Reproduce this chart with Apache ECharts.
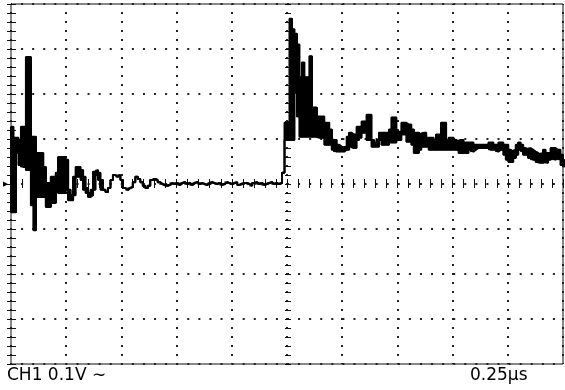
<!DOCTYPE html>
<html>
<head>
<meta charset="utf-8">
<script src="https://cdn.jsdelivr.net/npm/echarts@6/dist/echarts.min.js"></script>
<style>
html,body{margin:0;padding:0;background:#fff;}
#chart{width:565px;height:390px;}
</style>
</head>
<body>
<div id="chart"></div>
<script>
// Channel / timebase labels
const channelLabel = 'CH1 0.1V \u223C';
const timebaseLabel = '0.25\u03BCs';
// Time axis (µs): 10 divisions of 0.25 µs
const timeMin = 0, timeMax = 2.5, timeDiv = 0.25;
// Voltage axis (mV): 8 divisions of 100 mV
const voltMin = -400, voltMax = 400, voltDiv = 100;
// Peak-detect envelope of the trace (mV), one entry per display sample, left to right
const traceHigh = [
  127, 103, 103, 98, 127, 127, 282, 282, 105, 105,
  69, 69, 69, 38, 2, 2, 16, 16, 25, 60,
  60, 60, 54, -13, -25, 16, 38, 38, 31, 16,
  -9, -20, -13, 27, 31, 25, 9, -13, -18, -9,
  9, 20, 16, 20, 9, -9, -13, -9, -7, 4,
  16, 11, 4, -4, -9, -4, 9, 11, 9, 4,
  0, -2, -4, -2, 2, 0, 2, -2, 2, 4,
  0, 2, -2, 2, 4, 0, 2, 0, -2, 2,
  4, 2, 0, 2, -2, 0, 4, 2, 0, 2,
  4, -2, 0, 2, 2, 0, -4, 2, 4, 0,
  2, -2, 0, 2, 4, 0, 2, 0, 2,
  25, 136, 136, 367, 344, 334, 310, 237, 270, 237, 237,
  284, 170, 170, 150, 150, 150, 136, 136, 121, 98,
  98, 87, 83, 80, 83, 105, 114, 110, 110, 127,
  127, 139, 139, 154, 154, 98, 92, 98, 114, 114,
  114, 114, 121, 148, 148, 116, 116, 136, 136, 132,
  132, 121, 114, 114, 110, 114, 114, 103, 103, 103,
  98, 110, 110, 136, 136, 98, 103, 103, 98, 94,
  98, 98, 92, 92, 92, 92, 87, 87, 87, 87,
  87, 87, 92, 92, 87, 87, 92, 92, 87, 87,
  76, 72, 76, 87, 92, 87, 80, 76, 80, 76,
  72, 69, 65, 69, 76, 69, 69, 80, 80, 76,
  76, 65, 54
];
const traceLow = [
  -63, -63, 69, 42, 38, 38, 31, 31, -47, -103,
  -29, -29, -29, -29, -51, -51, -42, -42, -7, -20,
  -20, -20, -13, -36, -36, -25, 16, 16, 9, -13,
  -20, -29, -25, -13, 20, 9, -13, -13, -18, -9,
  9, 20, 16, 20, 9, -9, -13, -9, -7, 4,
  16, 11, 4, -4, -9, -4, 9, 11, 9, 4,
  0, -2, -4, -2, 2, 0, 2, -2, 2, 4,
  0, 2, -2, 2, 4, 0, 2, 0, -2, 2,
  4, 2, 0, 2, -2, 0, 4, 2, 0, 2,
  4, -2, 0, 2, 2, 0, -4, 2, 4, 0,
  2, -2, 0, 2, 4, 0, 2, 0, 2,
  25, 98, 98, 98, 98, 203, 150, 105, 105, 105, 105,
  105, 105, 105, 103, 103, 103, 87, 87, 87, 76,
  72, 72, 72, 72, 76, 76, 83, 80, 80, 98,
  103, 114, 114, 98, 98, 83, 83, 83, 98, 87,
  87, 87, 92, 92, 92, 98, 98, 110, 110, 94,
  94, 87, 69, 69, 76, 83, 83, 83, 76, 76,
  76, 76, 76, 76, 76, 76, 76, 76, 76, 76,
  69, 69, 69, 69, 76, 72, 76, 80, 80, 80,
  80, 80, 76, 76, 76, 72, 76, 76, 65, 54,
  49, 49, 58, 65, 76, 72, 65, 65, 58, 54,
  54, 49, 47, 47, 49, 47, 54, 58, 54, 58,
  54, 42, 38
];

const INK = '#111';
const chart = echarts.init(document.getElementById('chart'), null, {renderer: 'canvas'});

function tickSet(inside, len) {
  return {
    axisTick: {show: true, inside: inside, length: len, lineStyle: {color: INK, width: 1}},
    minorTick: {show: true, splitNumber: 5, length: len, lineStyle: {color: INK, width: 1}}
  };
}
function timeAxis(extra) {
  return Object.assign({
    type: 'value', min: timeMin, max: timeMax, interval: timeDiv,
    axisLabel: {show: false}, splitLine: {show: false}, axisLine: {show: false},
    minorSplitLine: {show: false}
  }, tickSet(true, 4), extra);
}
function voltAxis(extra) {
  return Object.assign({
    type: 'value', min: voltMin, max: voltMax, interval: voltDiv,
    axisLabel: {show: false}, splitLine: {show: false}, axisLine: {show: false},
    minorSplitLine: {show: false}
  }, tickSet(true, 4), extra);
}

const seriesX = {type: 'value', min: 0, max: traceHigh.length - 1, show: false};

const highData = traceHigh.map(function (v, i) { return [i, v]; });
const lowData = traceLow.map(function (v, i) { return [i, v]; });
// each sample's envelope box spans from its own sample to the next one
const envData = traceHigh.map(function (v, i) { return [i + 0.5, traceLow[i], v, traceLow[i], v]; });

const option = {
  animation: false,
  backgroundColor: '#fff',
  grid: {left: 9, top: 4, width: 554, height: 360, show: true, borderColor: INK, borderWidth: 1, containLabel: false},
  xAxis: [
    timeAxis(Object.assign({position: 'bottom',
      splitLine: {show: true, lineStyle: {color: '#222', width: 2, type: [2, 7], dashOffset: 1}}}, tickSet(true, 5))),
    timeAxis({position: 'top'}),
    timeAxis(Object.assign({position: 'bottom', offset: -180}, tickSet(false, 3))),
    timeAxis(Object.assign({position: 'top', offset: -180}, tickSet(false, 3))),
    seriesX
  ],
  yAxis: [
    voltAxis(Object.assign({position: 'left',
      splitLine: {show: true, lineStyle: {color: '#222', width: 2, type: [2, 9.08], dashOffset: 1}},
      axisLabel: {show: true, margin: 3, fontSize: 7, color: '#000',
        formatter: function (v) { return v === 0 ? '\u25B6' : ''; }}}, tickSet(true, 5))),
    voltAxis({position: 'right'}),
    voltAxis(Object.assign({position: 'left', offset: -277}, tickSet(false, 3))),
    voltAxis(Object.assign({position: 'right', offset: -277}, tickSet(false, 3)))
  ],
  series: [{
    type: 'line', xAxisIndex: 4, yAxisIndex: 0,
    data: lowData, step: 'end', showSymbol: false, symbol: 'none',
    lineStyle: {color: '#000', width: 2}
  }, {
    type: 'line', xAxisIndex: 4, yAxisIndex: 0,
    data: highData, step: 'end', showSymbol: false, symbol: 'none',
    lineStyle: {color: '#000', width: 2}
  }, {
    type: 'candlestick', xAxisIndex: 4, yAxisIndex: 0,
    data: envData,
    barWidth: 3.5,
    z: 5,
    itemStyle: {color: '#000', color0: '#000', borderColor: '#000', borderColor0: '#000', borderWidth: 1}
  }],
  graphic: [
    {type: 'text', left: 7, top: 367, style: {text: channelLabel, font: '17px "DejaVu Sans"', fill: '#000'}},
    {type: 'text', left: 470, top: 367, style: {text: timebaseLabel, font: '17px "DejaVu Sans"', fill: '#000'}}
  ]
};
chart.setOption(option);
</script>
</body>
</html>
